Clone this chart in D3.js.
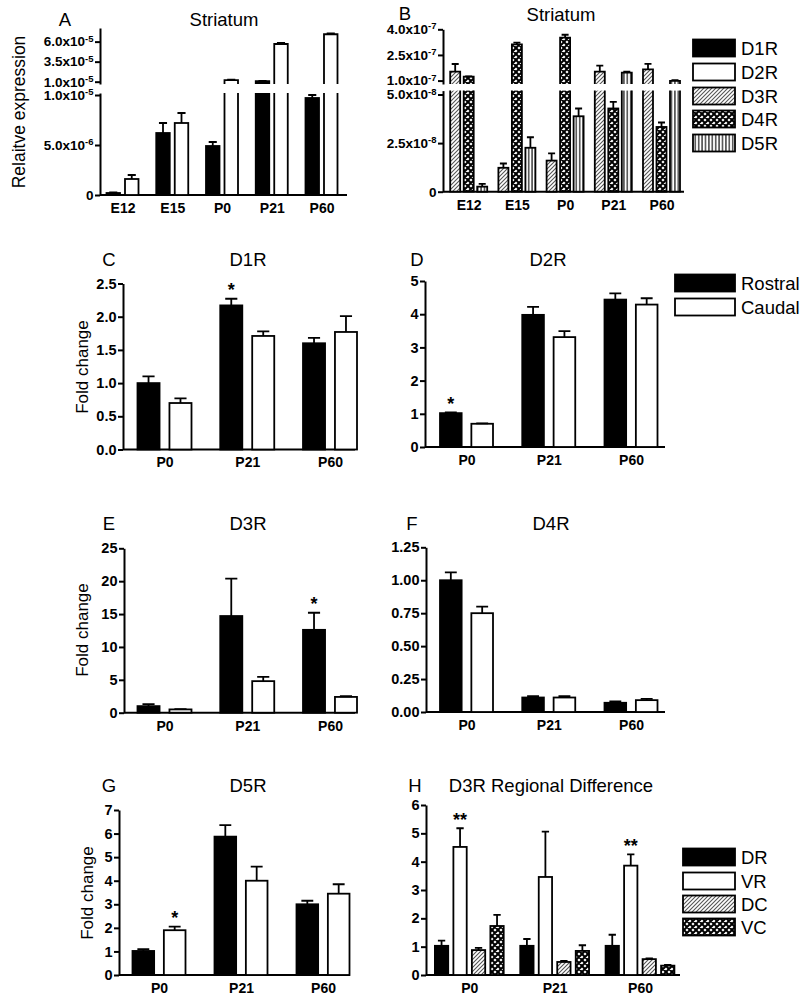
<!DOCTYPE html>
<html><head><meta charset="utf-8">
<script src="https://cdn.jsdelivr.net/npm/d3@7"></script>
<style>body{margin:0;background:#fff}svg{display:block}</style>
</head><body><svg id="c" width="800" height="1002"></svg>
<script>
const FONT = "'Liberation Sans', Arial, Helvetica, sans-serif";

// ---------------- data ----------------
const stagesAB = ["E12", "E15", "P0", "P21", "P60"];
const seriesA = ["D1R", "D2R"];
const aD1R = [2e-7, 6.2e-6, 4.9e-6, 1.08e-5, 9.7e-6];
const aD1RSem = [5e-8, 1.0e-6, 4e-7, 2e-7, 3e-7];
const aD2R = [1.6e-6, 7.2e-6, 1.2e-5, 5.7e-5, 6.92e-5];
const aD2RSem = [4e-7, 1.0e-6, 5e-7, 1.5e-6, 1.2e-6];

const seriesB = ["D3R", "D4R", "D5R"];
const bD3R = [1.52e-7, 1.23e-8, 1.6e-8, 1.52e-7, 1.66e-7];
const bD3RSem = [4.5e-8, 2.2e-9, 3.7e-9, 3.5e-8, 3.2e-8];
const bD4R = [1.23e-7, 3.12e-7, 3.51e-7, 4.28e-8, 3.33e-8];
const bD4RSem = [2e-9, 1e-8, 1.7e-8, 3.4e-9, 2.3e-9];
const bD5R = [2.6e-9, 2.26e-8, 3.88e-8, 1.46e-7, 9.8e-8];
const bD5RSem = [1.4e-9, 5.4e-9, 4e-9, 6e-9, 5e-9];

const legendAB = ["D1R", "D2R", "D3R", "D4R", "D5R"];
const ticksALower = [0, 5e-6, 1e-5];
const ticksAUpper = [1e-5, 3.5e-5, 6e-5];
const ticksBLower = [0, 2.5e-8, 5e-8];
const ticksBUpper = [1e-7, 2.5e-7, 4e-7];

const stagesP = ["P0", "P21", "P60"];
const seriesRC = ["Rostral", "Caudal"];

const cRostral = [1.0, 2.17, 1.6], cRostralSem = [0.1, 0.1, 0.08];
const cCaudal = [0.7, 1.71, 1.77], cCaudalSem = [0.07, 0.07, 0.24];
const dRostral = [1.02, 3.98, 4.44], dRostralSem = [0.02, 0.24, 0.19];
const dCaudal = [0.7, 3.31, 4.29], dCaudalSem = [0.01, 0.18, 0.19];
const eRostral = [1.0, 14.7, 12.6], eRostralSem = [0.3, 5.7, 2.6];
const eCaudal = [0.5, 4.8, 2.4], eCaudalSem = [0.05, 0.65, 0.1];
const fRostral = [1.0, 0.11, 0.07], fRostralSem = [0.06, 0.01, 0.01];
const fCaudal = [0.75, 0.11, 0.09], fCaudalSem = [0.05, 0.01, 0.01];
const gRostral = [1.02, 5.87, 3.0], gRostralSem = [0.08, 0.49, 0.15];
const gCaudal = [1.9, 4.0, 3.45], gCaudalSem = [0.15, 0.6, 0.4];

const seriesH = ["DR", "VR", "DC", "VC"];
const hDR = [1.03, 1.03, 1.03], hDRSem = [0.18, 0.24, 0.39];
const hVR = [4.52, 3.46, 3.86], hVRSem = [0.66, 1.6, 0.4];
const hDC = [0.88, 0.46, 0.56], hDCSem = [0.08, 0.04, 0.03];
const hVC = [1.73, 0.85, 0.33], hVCSem = [0.39, 0.2, 0.03];

const ticksC = [0, 0.5, 1, 1.5, 2, 2.5];
const ticksD = [0, 1, 2, 3, 4, 5];
const ticksE = [0, 5, 10, 15, 20, 25];
const ticksF = [0, 0.25, 0.5, 0.75, 1, 1.25];
const ticksG = [0, 1, 2, 3, 4, 5, 6, 7];
const ticksH = [0, 1, 2, 3, 4, 5, 6];

const starsC = [{ stage: "P21", series: "Rostral", label: "*" }];
const starsD = [{ stage: "P0", series: "Rostral", label: "*" }];
const starsE = [{ stage: "P60", series: "Rostral", label: "*" }];
const starsG = [{ stage: "P0", series: "Caudal", label: "*" }];
const starsH = [{ stage: "P0", series: "VR", label: "**" }, { stage: "P60", series: "VR", label: "**" }];

// ---------------- setup ----------------
const svg = d3.select("#c");
const defs = svg.append("defs");
const ph = defs.append("pattern").attr("id", "hatch").attr("patternUnits", "userSpaceOnUse").attr("width", 4).attr("height", 4);
ph.append("rect").attr("width", 4).attr("height", 4).attr("fill", "#fff");
ph.append("path").attr("d", "M-1,1L1,-1M0,4L4,0M3,5L5,3").attr("stroke", "#555").attr("stroke-width", 1.1);
const pc = defs.append("pattern").attr("id", "cross").attr("patternUnits", "userSpaceOnUse").attr("width", 6).attr("height", 6);
pc.append("rect").attr("width", 6).attr("height", 6).attr("fill", "#fff");
pc.append("path").attr("d", "M0,0L6,6M6,0L0,6M-1,5L1,7M5,-1L7,1M-1,1L1,-1M5,7L7,5").attr("stroke", "#000").attr("stroke-width", 2);
const pv = defs.append("pattern").attr("id", "vert").attr("patternUnits", "userSpaceOnUse").attr("width", 3.4).attr("height", 4);
pv.append("rect").attr("width", 3.4).attr("height", 4).attr("fill", "#fff");
pv.append("line").attr("x1", 1.7).attr("x2", 1.7).attr("y1", 0).attr("y2", 4).attr("stroke", "#000").attr("stroke-width", 1.1);

const fills = {
  D1R: "#000", D2R: "#fff", D3R: "url(#hatch)", D4R: "url(#cross)", D5R: "url(#vert)",
  Rostral: "#000", Caudal: "#fff", DR: "#000", VR: "#fff", DC: "url(#hatch)", VC: "url(#cross)"
};
const SW = 1.8;
const TITLE = 18.5;

function txt(x, y, s, opts = {}) {
  const t = svg.append("text").attr("x", x).attr("y", y).text(s)
    .attr("font-family", FONT).attr("font-size", opts.size || TITLE)
    .attr("text-anchor", opts.anchor || "middle").attr("fill", "#000");
  if (opts.weight) t.attr("font-weight", opts.weight);
  if (opts.rotate) t.attr("transform", `rotate(-90,${x},${y})`);
  return t;
}

function styleAxis(ax, size) {
  ax.attr("font-family", FONT).attr("font-size", size).attr("font-weight", "bold");
  ax.select(".domain").attr("stroke", "#000").attr("stroke-width", 2);
  ax.selectAll(".tick line").attr("stroke", "#000").attr("stroke-width", 2);
  ax.selectAll(".tick text").attr("fill", "#000");
}

function sciLabels(ax) {
  ax.selectAll(".tick text").each(function (d) {
    const t = d3.select(this);
    t.text(null);
    if (d === 0) { t.text("0"); return; }
    const parts = d.toExponential(1).split("e");
    t.append("tspan").text(parts[0] + "x10");
    t.append("tspan").attr("dy", "-0.5em").attr("font-size", "0.7em").text(parts[1].replace("+", ""));
  });
}

function xAxis(groups, centers, y0, x0, x1) {
  const xc = d3.scalePoint().domain(groups).range(centers);
  const ax = svg.append("g").attr("transform", `translate(0,${y0})`)
    .call(d3.axisBottom(xc).tickSize(0).tickPadding(8));
  styleAxis(ax, 14);
  ax.select(".domain").attr("d", `M${x0},0H${x1}`);
  return xc;
}

function errBar(x, yb, ye, cap) {
  svg.append("path").attr("d", `M${x},${yb}V${ye}M${x - cap / 2},${ye}H${x + cap / 2}`)
    .attr("stroke", "#000").attr("stroke-width", SW).attr("fill", "none");
}

function simplePanel(c) {
  const y = d3.scaleLinear().domain([0, c.ticks[c.ticks.length - 1]]).range([c.y0, c.yTop]);
  const ay = svg.append("g").attr("transform", `translate(${c.axisX},0)`)
    .call(d3.axisLeft(y).tickValues(c.ticks).tickSize(5).tickSizeOuter(0).tickPadding(1.5).tickFormat(c.fmt));
  styleAxis(ay, 14.5);
  const xc = xAxis(c.groups, c.centers, c.y0, c.axisX, c.xEnd);
  const x1 = d3.scaleBand().domain(c.series).range([-c.half, c.half]).paddingInner(c.pad);
  const w = x1.bandwidth();
  const cap = Math.max(7, w * 0.55);
  c.series.forEach((s, j) => {
    c.groups.forEach((gname, i) => {
      const v = c.means[j][i], e = c.sems[j][i];
      const x = xc(gname) + x1(s);
      svg.append("rect").attr("x", x).attr("y", y(v)).attr("width", w).attr("height", y(0) - y(v))
        .attr("fill", fills[s]).attr("stroke", "#000").attr("stroke-width", SW);
      errBar(x + w / 2, y(v), y(v + e), cap);
    });
  });
  (c.stars || []).forEach(st => {
    const j = c.series.indexOf(st.series), i = c.groups.indexOf(st.stage);
    const v = c.means[j][i] + c.sems[j][i];
    txt(xc(st.stage) + x1(st.series) + w / 2, y(v) - 2.5, st.label, { size: 18, weight: "bold" });
  });
}

function brokenPanel(c) {
  const yL = d3.scaleLinear().domain(c.lowerDomain).range(c.lowerRange);
  const yU = d3.scaleLinear().domain(c.upperDomain).range(c.upperRange);
  [[yL, c.lowerTicks], [yU, c.upperTicks]].forEach(([sc, tv]) => {
    const ay = svg.append("g").attr("transform", `translate(${c.axisX},0)`)
      .call(d3.axisLeft(sc).tickValues(tv).tickSize(5).tickSizeOuter(0).tickPadding(1.5));
    styleAxis(ay, 13.5);
    sciLabels(ay);
  });
  const xc = xAxis(c.groups, c.centers, c.lowerRange[0], c.axisX, c.xEnd);
  const x1 = d3.scaleBand().domain(c.series).range([-c.half, c.half]).paddingInner(c.pad);
  const w = x1.bandwidth();
  const cap = Math.max(7, w * 0.6);
  const lowMax = c.lowerDomain[1], upMin = c.upperDomain[0];
  c.series.forEach((s, j) => {
    c.groups.forEach((gname, i) => {
      const v = c.means[j][i], e = c.sems[j][i];
      const x = xc(gname) + x1(s);
      const y0 = yL(0);
      if (v <= lowMax) {
        svg.append("rect").attr("x", x).attr("y", yL(v)).attr("width", w).attr("height", y0 - yL(v))
          .attr("fill", fills[s]).attr("stroke", "#000").attr("stroke-width", SW);
        errBar(x + w / 2, yL(v), yL(v + e), cap);
      } else {
        const yt = yL(lowMax);
        svg.append("rect").attr("x", x).attr("y", yt).attr("width", w).attr("height", y0 - yt).attr("fill", fills[s]);
        svg.append("path").attr("d", `M${x},${yt}V${y0}H${x + w}V${yt}`)
          .attr("fill", "none").attr("stroke", "#000").attr("stroke-width", SW);
        const ub = yU(upMin), ut = yU(v);
        svg.append("rect").attr("x", x).attr("y", ut).attr("width", w).attr("height", ub - ut).attr("fill", fills[s]);
        svg.append("path").attr("d", `M${x},${ub}V${ut}H${x + w}V${ub}`)
          .attr("fill", "none").attr("stroke", "#000").attr("stroke-width", SW);
        errBar(x + w / 2, ut, yU(v + e), cap);
      }
    });
  });
}

function legend(items, x, tops, bw, bh) {
  items.forEach((s, k) => {
    svg.append("rect").attr("x", x).attr("y", tops[k]).attr("width", bw).attr("height", bh)
      .attr("fill", fills[s]).attr("stroke", "#000").attr("stroke-width", SW);
    txt(741, tops[k] + bh / 2 + 6.5, s, { anchor: "start", size: TITLE });
  });
}

// ---------------- Panel A ----------------
brokenPanel({
  axisX: 100, groups: stagesAB, series: seriesA, centers: [122.5, 321.5], xEnd: 347,
  half: 16, pad: 0.27, means: [aD1R, aD2R], sems: [aD1RSem, aD2RSem],
  lowerDomain: [0, 1.02e-5], lowerRange: [195, 93], lowerTicks: ticksALower,
  upperDomain: [0.71e-5, 7.7e-5], upperRange: [84, 28], upperTicks: ticksAUpper
});
txt(65, 26, "A");
txt(224, 26, "Striatum");
txt(25, 112, "Relaitve expression", { rotate: true, size: 17.5 });

// ---------------- Panel B ----------------
brokenPanel({
  axisX: 443, groups: stagesAB, series: seriesB, centers: [468.7, 661.5], xEnd: 684,
  half: 18.5, pad: 0.26, means: [bD3R, bD4R, bD5R], sems: [bD3RSem, bD4RSem, bD5RSem],
  lowerDomain: [0, 5.2e-8], lowerRange: [191.7, 90.6], lowerTicks: ticksBLower,
  upperDomain: [0.8e-7, 4e-7], upperRange: [84, 29.3], upperTicks: ticksBUpper
});
txt(405, 19.5, "B");
txt(561, 21, "Striatum");
legend(legendAB, 693, [39.5, 63.5, 87.5, 110.5, 134.5], 42, 17);

// ---------------- Panel C ----------------
simplePanel({
  axisX: 123, y0: 449.5, yTop: 283.5, ticks: ticksC, fmt: d3.format(".1f"),
  groups: stagesP, series: seriesRC, centers: [164.5, 330], xEnd: 355, half: 27, pad: 0.31,
  means: [cRostral, cCaudal], sems: [cRostralSem, cCaudalSem], stars: starsC
});
txt(109, 266, "C");
txt(248, 266, "D1R");
txt(88, 367, "Fold change", { rotate: true, size: 17 });
legend(seriesRC, 675, [274.5, 298.5], 60, 17);

// ---------------- Panel D ----------------
simplePanel({
  axisX: 425, y0: 447, yTop: 281, ticks: ticksD, fmt: d3.format("d"),
  groups: stagesP, series: seriesRC, centers: [466.5, 631], xEnd: 665, half: 26.5, pad: 0.31,
  means: [dRostral, dCaudal], sems: [dRostralSem, dCaudalSem], stars: starsD
});
txt(417, 266, "D");
txt(548, 266, "D2R");

// ---------------- Panel E ----------------
simplePanel({
  axisX: 124, y0: 712.7, yTop: 548.3, ticks: ticksE, fmt: d3.format("d"),
  groups: stagesP, series: seriesRC, centers: [164.5, 330], xEnd: 355, half: 27, pad: 0.31,
  means: [eRostral, eCaudal], sems: [eRostralSem, eCaudalSem], stars: starsE
});
txt(109, 530, "E");
txt(248, 530, "D3R");
txt(88, 630, "Fold change", { rotate: true, size: 17 });

// ---------------- Panel F ----------------
simplePanel({
  axisX: 426, y0: 712, yTop: 547.3, ticks: ticksF, fmt: d3.format(".2f"),
  groups: stagesP, series: seriesRC, centers: [466.5, 631], xEnd: 665, half: 26.5, pad: 0.31,
  means: [fRostral, fCaudal], sems: [fRostralSem, fCaudalSem]
});
txt(412, 530, "F");
txt(551, 530, "D4R");

// ---------------- Panel G ----------------
simplePanel({
  axisX: 119, y0: 975, yTop: 810, ticks: ticksG, fmt: d3.format("d"),
  groups: stagesP, series: seriesRC, centers: [159, 323], xEnd: 350, half: 26.5, pad: 0.31,
  means: [gRostral, gCaudal], sems: [gRostralSem, gCaudalSem], stars: starsG
});
txt(109, 792, "G");
txt(248, 792, "D5R");
txt(93, 893, "Fold change", { rotate: true, size: 17 });

// ---------------- Panel H ----------------
simplePanel({
  axisX: 426, y0: 975, yTop: 805, ticks: ticksH, fmt: d3.format("d"),
  groups: stagesP, series: seriesH, centers: [469.3, 640], xEnd: 680, half: 34.4, pad: 0.28,
  means: [hDR, hVR, hDC, hVC], sems: [hDRSem, hVRSem, hDCSem, hVCSem], stars: starsH
});
txt(415, 792, "H");
txt(551, 792, "D3R Regional Difference");
legend(seriesH, 683, [848.5, 872.5, 895.5, 918.5], 52, 17);
</script></body></html>
